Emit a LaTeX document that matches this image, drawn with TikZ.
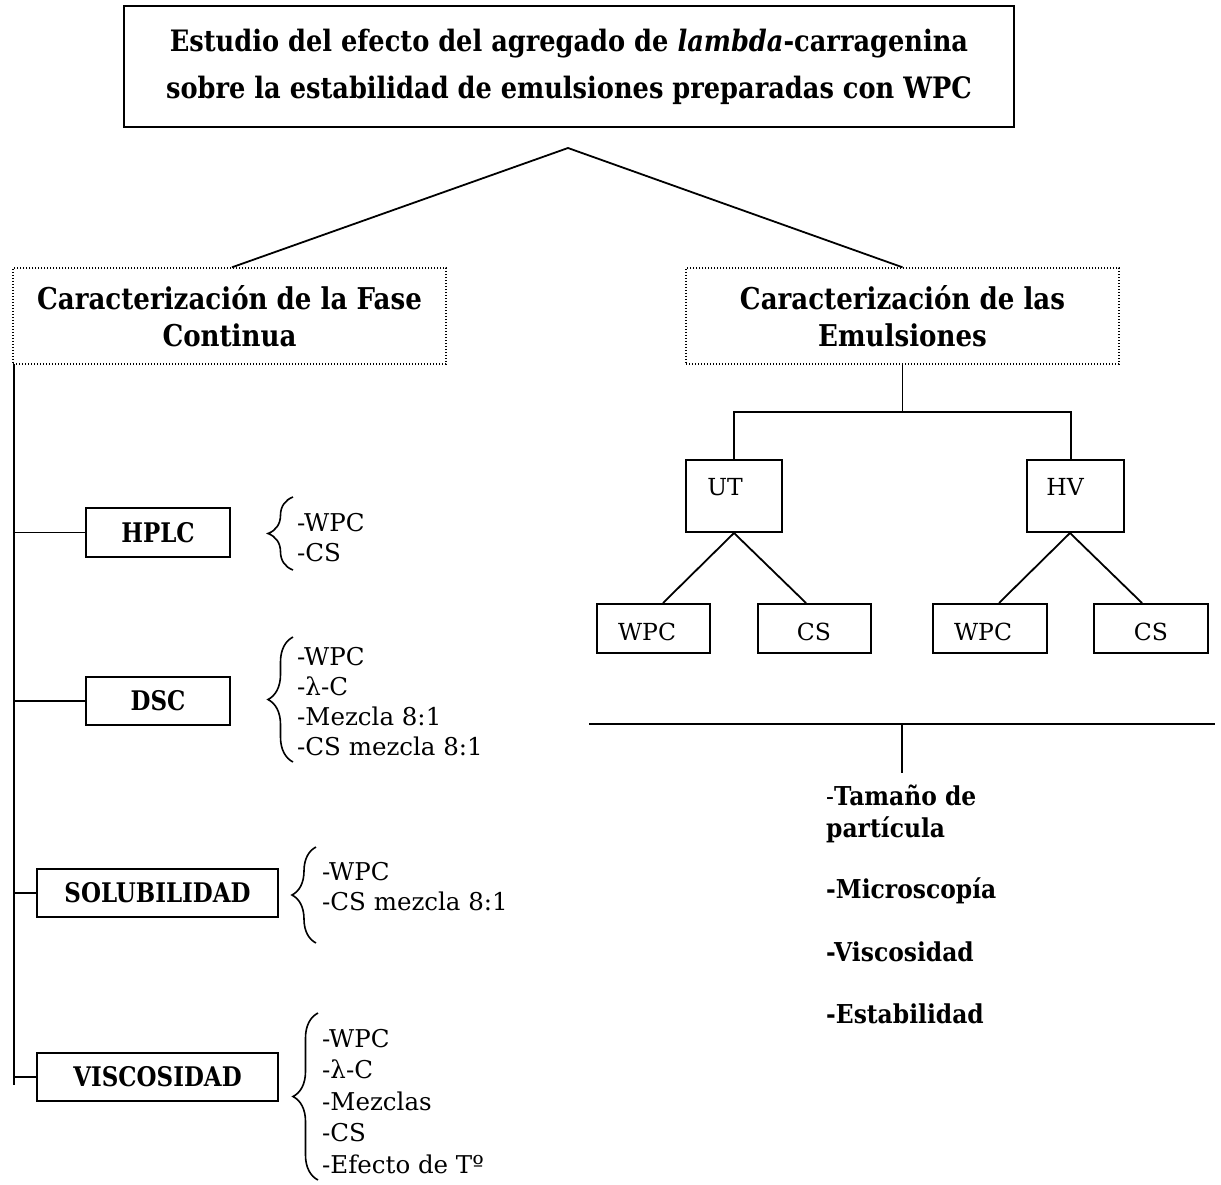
\documentclass[tikz,border=0pt]{standalone}
\usepackage{fontspec}
\setmainfont{DejaVu Serif}
\newfontfamily\narrowA{DejaVu Serif}[FakeStretch=0.87]
\newfontfamily\narrowB{DejaVu Serif}[FakeStretch=0.85]
\newfontfamily\narrowC{DejaVu Serif}[FakeStretch=0.9]
\usetikzlibrary{decorations.pathreplacing,calc}
\newcommand\ftitle{\narrowA\fontsize{29.5}{47}\selectfont\bfseries}
\newcommand\fhead{\narrowA\fontsize{30}{37}\selectfont\bfseries}
\newcommand\flab{\narrowB\fontsize{27}{28}\selectfont\bfseries}
\newcommand\flist{\fontsize{24.5}{25}\selectfont}
\newcommand\fsmall{\fontsize{23.5}{25}\selectfont}
\newcommand\fright{\narrowC\fontsize{26}{25}\selectfont\bfseries}
\begin{document}
\begin{tikzpicture}[x=1pt,y=-1pt,
  conn/.style={line width=1.8pt},
  titlebox/.style={draw,line width=2.6pt,inner sep=0pt,align=center,font=\ftitle},
  boxnode/.style={draw,line width=2pt,inner sep=0pt},
  dotbox/.style={draw,line width=1.4pt,dash pattern=on 1.3pt off 1.7pt,inner sep=0pt,align=center,font=\fhead},
  brc/.style={decorate,decoration={brace,amplitude=#1,aspect=0.5},line width=1.6pt},
  itemtxt/.style={anchor=base west,inner sep=0pt,font=\flist},
  ritem/.style={anchor=base west,inner sep=0pt,font=\fright},
  plain/.style={inner sep=0pt,font=\fsmall}
]
\useasboundingbox (0,0) rectangle (1221,1184);

% title
\node[titlebox,minimum width=890pt,minimum height=121pt] (title) at (569,66.5)
  {Estudio del efecto del agregado de \textit{lambda}-carragenina\\sobre la estabilidad de emulsiones preparadas con WPC};

% main branches
\node[dotbox,minimum width=433pt,minimum height=96pt] (lbox) at (229.5,316)
  {Caracterización de la Fase\\Continua};
\node[dotbox,minimum width=433pt,minimum height=96pt] (rbox) at (902.5,316)
  {Caracterización de las\\Emulsiones};
\coordinate (apex) at (568,148);
\draw[conn] ([xshift=2.5pt]lbox.north) -- (apex) -- (rbox.north);

% left spine
\coordinate (spinetop) at (14,364);
\coordinate (spinebot) at (14,1085);
\draw[conn] (spinetop) -- (spinebot);

\node[boxnode,minimum width=144pt,minimum height=49pt,font=\flab] (hplc) at (158,532.5) {HPLC};
\node[boxnode,minimum width=144pt,minimum height=48pt,font=\flab] (dsc) at (158,701) {DSC};
\node[boxnode,minimum width=241pt,minimum height=48pt,font=\flab] (sol) at (157.5,893) {SOLUBILIDAD};
\node[boxnode,minimum width=241pt,minimum height=48pt,font=\flab] (visc) at (157.5,1077) {VISCOSIDAD};
\foreach \b in {hplc,dsc,sol,visc}
  \draw[conn] (\b.west -| spinetop) -- (\b.west);

% braces
\coordinate (hb1) at (293,570); \coordinate (hb2) at (293,497);
\draw[brc=25pt] (hb1) -- (hb2);
\coordinate (db1) at (293,762); \coordinate (db2) at (293,637);
\draw[brc=25pt] (db1) -- (db2);
\coordinate (sb1) at (316,943); \coordinate (sb2) at (316,847);
\draw[brc=24pt] (sb1) -- (sb2);
\coordinate (vb1) at (318,1180); \coordinate (vb2) at (318,1013);
\draw[brc=25pt] (vb1) -- (vb2);

% lists
\node[itemtxt] (h1) at (297,531) {-WPC};
\node[itemtxt] (h2) at (297,561) {-CS};
\node[itemtxt] (d1) at (297,665) {-WPC};
\node[itemtxt] (d2) at (297,695) {-λ-C};
\node[itemtxt] (d3) at (297,725) {-Mezcla 8:1};
\node[itemtxt] (d4) at (297,755) {-CS mezcla 8:1};
\node[itemtxt] (s1) at (322,880) {-WPC};
\node[itemtxt] (s2) at (322,910) {-CS mezcla 8:1};
\node[itemtxt] (v1) at (322,1047) {-WPC};
\node[itemtxt] (v2) at (322,1078.5) {-λ-C};
\node[itemtxt] (v3) at (322,1110) {-Mezclas};
\node[itemtxt] (v4) at (322,1141.5) {-CS};
\node[itemtxt] (v5) at (322,1173) {-Efecto de Tº};

% right tree
\coordinate (rj) at (902.5,412);
\node[boxnode,minimum width=96pt,minimum height=72pt] (ut) at (734,496) {};
\node[boxnode,minimum width=97pt,minimum height=72pt] (hv) at (1075.5,496) {};
\node[plain] (utl) at (725,487) {UT};
\node[plain] (hvl) at (1065,487) {HV};
\draw[conn] (rbox.south) -- (rj);
\draw[conn] (ut.north) |- (rj) -| ([xshift=-4.5pt]hv.north);

\node[boxnode,minimum width=113pt,minimum height=49pt] (uwpc) at (653.5,628.5) {};
\node[boxnode,minimum width=113pt,minimum height=49pt] (ucs) at (814.5,628.5) {};
\node[boxnode,minimum width=114pt,minimum height=49pt] (hwpc) at (990,628.5) {};
\node[boxnode,minimum width=114pt,minimum height=49pt] (hcs) at (1151,628.5) {};
\node[plain] (uwpcl) at (647,632) {WPC};
\node[plain] (ucsl) at (814,632) {CS};
\node[plain] (hwpcl) at (983,632) {WPC};
\node[plain] (hcsl) at (1151,632) {CS};
\draw[conn] ([xshift=9.5pt]uwpc.north) -- (ut.south) -- ([xshift=-8.5pt]ucs.north);
\draw[conn] ([xshift=9pt]hwpc.north) -- ([xshift=-5.5pt]hv.south) -- ([xshift=-9pt]hcs.north);

% bottom right
\coordinate (hl) at (589,724);
\coordinate (hr) at (1215,724);
\coordinate (hm) at (902,724);
\coordinate (hd) at (902,773);
\draw[conn] (hl) -- (hr);
\draw[conn] (hm) -- (hd);
\node[ritem] (r1) at (826,805) {{\mdseries -}Tamaño de};
\node[ritem] (r2) at (826,837) {partícula};
\node[ritem] (r3) at (826,898) {-Microscopía};
\node[ritem] (r4) at (826,961) {-Viscosidad};
\node[ritem] (r5) at (826,1023) {-Estabilidad};
\end{tikzpicture}
\end{document}
